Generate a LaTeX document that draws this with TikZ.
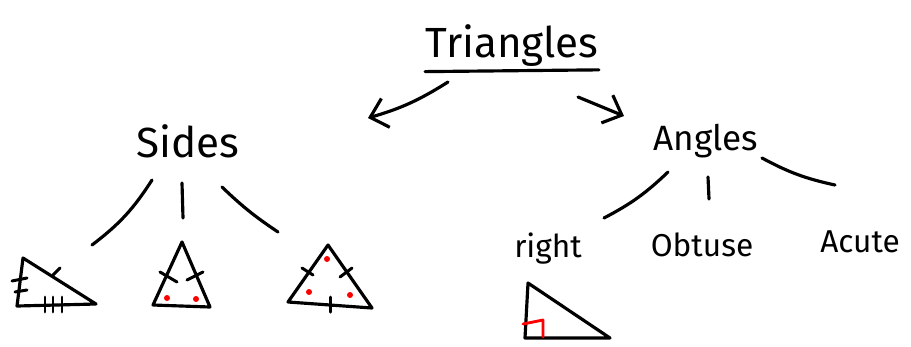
\documentclass[tikz,border=0pt]{standalone}
\usepackage{fontspec}
\setmainfont{Fira Sans}
\usetikzlibrary{arrows.meta,calc}
\tikzset{
  pen/.style={line width=1.8pt, line cap=round, line join=round},
  branch/.style={pen},
  flow/.style={pen, -{Straight Barb[length=3.2mm, width=6mm]}},
  tickstroke/.style={line width=1.7pt, line cap=round},
  redmark/.style={pen, red, line width=1.6pt},
  dot/.style={fill=red, draw=none},
  title/.style={font=\fontsize{24}{28}\selectfont, inner sep=0pt, anchor=base},
  head/.style={font=\fontsize{24}{28}\selectfont, inner sep=0pt, anchor=base},
  leaf/.style={font=\fontsize{18}{22}\selectfont, inner sep=0pt, anchor=base},
}
\newcommand{\ticks}[1]{%
  \foreach \xa/\ya/\xb/\yb in {#1} {\draw[tickstroke] (\xa,\ya) -- (\xb,\yb);}}
\newcommand{\reddots}[1]{%
  \foreach \xa/\ya in {#1} {\fill[dot] (\xa,\ya) circle[radius=0.06cm];}}

\begin{document}
\begin{tikzpicture}[x=0.02cm, y=-0.02cm]
  \useasboundingbox (0,0) rectangle (911,346);
  % headings
  \node[title] (triangles) at (512,57) {Triangles};
  \node[head] (sides) at (188,157) {Sides};
  \node[head, font=\fontsize{20}{24}\selectfont] (angles) at (706,150) {Angles};
  \node[leaf] (right) at (548,257) {right};
  \node[leaf] (obtuse) at (702,256) {Obtuse};
  \node[leaf] (acute) at (860,252) {Acute};
  \draw[pen] ([yshift=-3pt]triangles.south west) -- ([yshift=-2pt]triangles.south east);
  % stroke ends
  \coordinate (tsA) at (448,82);  \coordinate (tsB) at (368,118);
  \coordinate (taA) at (578,97);  \coordinate (taB) at (624,116);
  \coordinate (s1A) at (152,180); \coordinate (s1B) at (92,245);
  \coordinate (s2A) at (182,183); \coordinate (s2B) at (183,218);
  \coordinate (s3A) at (222,187); \coordinate (s3B) at (278,232);
  \coordinate (a1A) at (668,172); \coordinate (a1B) at (604,218);
  \coordinate (a2A) at (708,177); \coordinate (a2B) at (709,199);
  \coordinate (a3A) at (762,158); \coordinate (a3B) at (835,185);
  % arrows and branches
  \draw[flow] (tsA) to[bend left=8] (tsB);
  \draw[flow] (taA) -- (taB);
  \draw[branch] (s1A) to[bend left=10] (s1B);
  \draw[branch] (s2A) -- (s2B);
  \draw[branch] (s3A) to[bend right=5] (s3B);
  \draw[branch] (a1A) to[bend left=8] (a1B);
  \draw[branch] (a2A) -- (a2B);
  \draw[branch] (a3A) to[bend right=8] (a3B);
  % scalene
  \draw[pen] (23,258) -- (96,304) -- (17,306) -- cycle;
  \ticks{53/275/60/268, 12/281/27/278, 15/292/27/290, 45/297/45/312, 53/297/53/312, 62/297/62/312}
  % isosceles
  \draw[pen] (182,242) -- (210,307) -- (153,305) -- cycle;
  \ticks{160/272/177/282, 187/280/203/272}
  \reddots{167/298, 196/299}
  % equilateral
  \draw[pen] (328,245) -- (372,308) -- (288,302) -- cycle;
  \ticks{302/268/313/275, 340/277/352/268, 330/297/330/312}
  \reddots{327/259, 309/292, 350/295}
  % right
  \draw[pen] (528,283) -- (610,338) -- (525,338) -- cycle;
  \draw[redmark] (523,324) -- (543,320) -- (543,337);
\end{tikzpicture}
\end{document}
